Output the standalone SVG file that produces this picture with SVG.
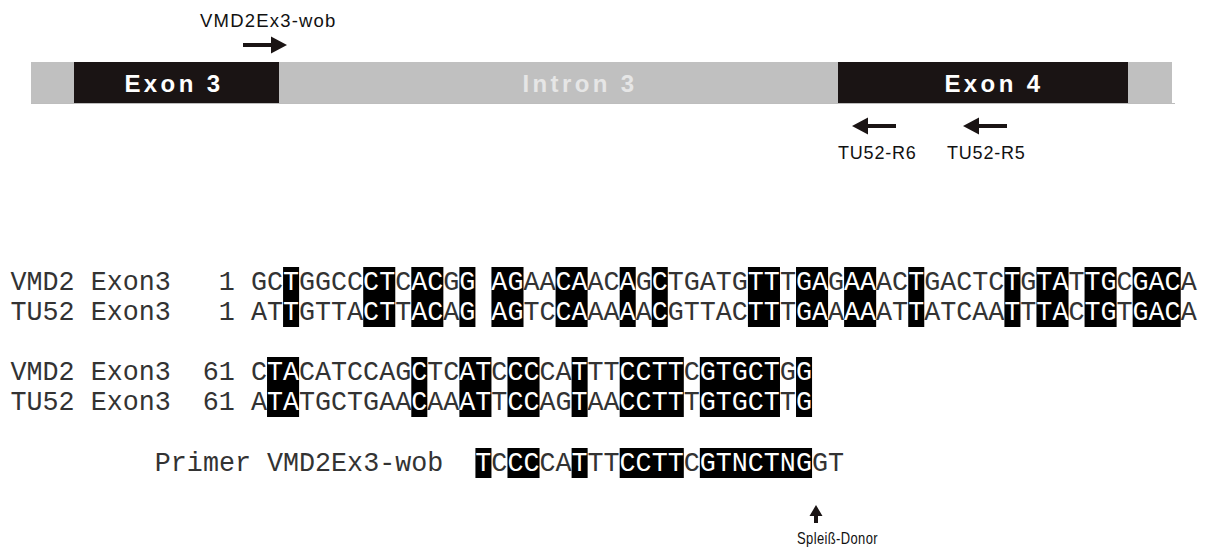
<svg xmlns="http://www.w3.org/2000/svg" width="1205" height="554" viewBox="0 0 1205 554">
<style>
.bar{fill:#c0c0c0}
.exon{fill:#1a1414}
.barlbl{font-family:"Liberation Sans",Arial,sans-serif;font-weight:bold;font-size:24px;letter-spacing:3.4px;text-anchor:middle}
.lbl{font-family:"Liberation Sans",Arial,sans-serif;font-size:18px;letter-spacing:0.8px;fill:#111}
.seq{font-family:"Liberation Mono","Courier New",monospace;font-size:26.71px;fill:#333;white-space:pre}
.seq .h{fill:#fff}
.hl{fill:#000}
.arrow{fill:#1a1414}
</style>
<defs>
<path id="arr" d="M0,0 L-16,-8.5 V-2 H-44 V2 H-16 V8.5 Z"/>
</defs>

<g id="gene-map">
<rect class="bar" x="31" y="62" width="1141" height="41"/>
<line x1="31" y1="103.5" x2="1175" y2="103.5" stroke="#bdbdbd" stroke-width="1"/>
<g id="exon3">
<rect class="exon" x="74" y="62" width="205" height="41"/>
<text class="barlbl" x="174" y="92" fill="#fff">Exon 3</text>
</g>
<g id="intron3">
<text class="barlbl" x="580" y="92" fill="#e6e6e6">Intron 3</text>
</g>
<g id="exon4">
<rect class="exon" x="838" y="62" width="290" height="41"/>
<text class="barlbl" x="994" y="92" fill="#fff">Exon 4</text>
</g>
</g>

<g id="connectors">
<use href="#arr" class="arrow" transform="translate(287,45)"/>
<use href="#arr" class="arrow" transform="translate(852,126) rotate(180)"/>
<use href="#arr" class="arrow" transform="translate(963,126) rotate(180)"/>
<path class="arrow" d="M816,505 L822.5,516 H818 V523 H814 V516 H809.5 Z"/>
</g>

<g id="primer-labels">
<g id="lbl-vmd2ex3-wob"><text class="lbl" x="200" y="27" style="font-size:18.5px;letter-spacing:1.2px">VMD2Ex3-wob</text></g>
<g id="lbl-tu52-r6"><text class="lbl" x="838" y="159">TU52-R6</text></g>
<g id="lbl-tu52-r5"><text class="lbl" x="947" y="159">TU52-R5</text></g>
<g id="lbl-splice"><text class="lbl" x="797" y="544" style="font-size:17px;letter-spacing:0.5px" textLength="81" lengthAdjust="spacingAndGlyphs">Spleiß-Donor</text></g>
</g>

<g id="alignment">
<g id="hl-rows12" class="hl">
<rect x="283.06" y="267" width="16.03" height="60"/>
<rect x="363.21" y="267" width="32.06" height="60"/>
<rect x="411.30" y="267" width="32.06" height="60"/>
<rect x="459.39" y="267" width="16.03" height="60"/>
<rect x="491.45" y="267" width="32.06" height="60"/>
<rect x="555.57" y="267" width="32.06" height="60"/>
<rect x="619.69" y="267" width="16.03" height="60"/>
<rect x="651.75" y="267" width="16.03" height="60"/>
<rect x="747.93" y="267" width="32.06" height="60"/>
<rect x="796.02" y="267" width="32.06" height="60"/>
<rect x="844.11" y="267" width="32.06" height="60"/>
<rect x="908.23" y="267" width="16.03" height="60"/>
<rect x="1004.41" y="267" width="16.03" height="60"/>
<rect x="1036.47" y="267" width="32.06" height="60"/>
<rect x="1084.56" y="267" width="32.06" height="60"/>
<rect x="1132.65" y="267" width="48.09" height="60"/>
</g>
<g id="hl-rows34" class="hl">
<rect x="267.03" y="357" width="32.06" height="60"/>
<rect x="411.30" y="357" width="16.03" height="60"/>
<rect x="459.39" y="357" width="32.06" height="60"/>
<rect x="507.48" y="357" width="32.06" height="60"/>
<rect x="571.60" y="357" width="16.03" height="60"/>
<rect x="619.69" y="357" width="64.12" height="60"/>
<rect x="699.84" y="357" width="80.15" height="60"/>
<rect x="796.02" y="357" width="16.03" height="60"/>
</g>
<g id="hl-primer" class="hl">
<rect x="475.42" y="448" width="16.03" height="30"/>
<rect x="507.48" y="448" width="32.06" height="30"/>
<rect x="571.60" y="448" width="16.03" height="30"/>
<rect x="619.69" y="448" width="64.12" height="30"/>
<rect x="699.84" y="448" width="112.21" height="30"/>
</g>

<g id="row-vmd2-1"><text class="seq" x="10.55" y="290" xml:space="preserve">VMD2 Exon3   1 GC<tspan class="h">T</tspan>GGCC<tspan class="h">CT</tspan>C<tspan class="h">AC</tspan>G<tspan class="h">G</tspan> <tspan class="h">AG</tspan>AA<tspan class="h">CA</tspan>AC<tspan class="h">A</tspan>G<tspan class="h">C</tspan>TGATG<tspan class="h">TT</tspan>T<tspan class="h">GA</tspan>G<tspan class="h">AA</tspan>AC<tspan class="h">T</tspan>GACTC<tspan class="h">T</tspan>G<tspan class="h">TA</tspan>T<tspan class="h">TG</tspan>C<tspan class="h">GAC</tspan>A</text></g>
<g id="row-tu52-1"><text class="seq" x="10.55" y="320" xml:space="preserve">TU52 Exon3   1 AT<tspan class="h">T</tspan>GTTA<tspan class="h">CT</tspan>T<tspan class="h">AC</tspan>A<tspan class="h">G</tspan> <tspan class="h">AG</tspan>TC<tspan class="h">CA</tspan>AA<tspan class="h">A</tspan>A<tspan class="h">C</tspan>GTTAC<tspan class="h">TT</tspan>T<tspan class="h">GA</tspan>A<tspan class="h">AA</tspan>AT<tspan class="h">T</tspan>ATCAA<tspan class="h">T</tspan>T<tspan class="h">TA</tspan>C<tspan class="h">TG</tspan>T<tspan class="h">GAC</tspan>A</text></g>
<g id="row-vmd2-61"><text class="seq" x="10.55" y="380" xml:space="preserve">VMD2 Exon3  61 C<tspan class="h">TA</tspan>CATCCAG<tspan class="h">C</tspan>TC<tspan class="h">AT</tspan>C<tspan class="h">CC</tspan>CA<tspan class="h">T</tspan>TT<tspan class="h">CCTT</tspan>C<tspan class="h">GTGCT</tspan>G<tspan class="h">G</tspan></text></g>
<g id="row-tu52-61"><text class="seq" x="10.55" y="410" xml:space="preserve">TU52 Exon3  61 A<tspan class="h">TA</tspan>TGCTGAA<tspan class="h">C</tspan>AA<tspan class="h">AT</tspan>T<tspan class="h">CC</tspan>AG<tspan class="h">T</tspan>AA<tspan class="h">CCTT</tspan>T<tspan class="h">GTGCT</tspan>T<tspan class="h">G</tspan></text></g>
<g id="row-primer"><text class="seq" x="154.82" y="471" xml:space="preserve">Primer VMD2Ex3-wob  <tspan class="h">T</tspan>C<tspan class="h">CC</tspan>CA<tspan class="h">T</tspan>TT<tspan class="h">CCTT</tspan>C<tspan class="h">GTNCTNG</tspan>GT</text></g>
</g>
</svg>
